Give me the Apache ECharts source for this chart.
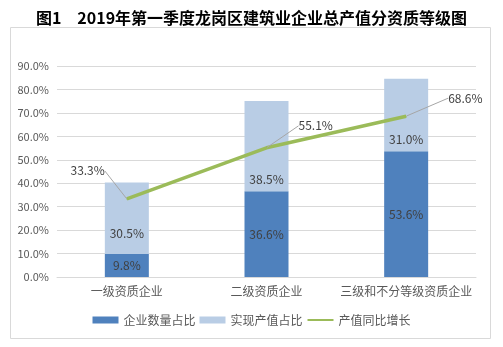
<!DOCTYPE html>
<html><head><meta charset="utf-8">
<script src="https://cdn.jsdelivr.net/npm/echarts@6/dist/echarts.min.js"></script>
<style>html,body{margin:0;padding:0;background:#fff}#c{width:503px;height:347px}</style>
</head><body><div id="c"></div>
<script>
const categories = ['一级资质企业', '二级资质企业', '三级和不分等级资质企业'];
const countShare = [9.8, 36.6, 53.6];
const outputShare = [30.5, 38.5, 31.0];
const growth = [33.3, 55.1, 68.6];
const yTicks = [0, 10, 20, 30, 40, 50, 60, 70, 80, 90];
const seriesNames = ['企业数量占比', '实现产值占比', '产值同比增长'];
const titleText = '图1　2019年第一季度龙岗区建筑业企业总产值分资质等级图';

const chart = echarts.init(document.getElementById('c'), null, {renderer: 'canvas'});
const font = '"Microsoft YaHei","Noto Sans CJK SC",sans-serif';
const lblOffsets = [[-22, -28, 'right'], [32, -22, 'left'], [42, -18, 'left']];
const barLblDy = [15, 33, 24];
chart.setOption({
  animation: false,
  title: {text: titleText, left: 'center', top: 5,
    textStyle: {fontSize: 16, fontWeight: 'bold', color: '#000', fontFamily: '"Noto Sans CJK SC",SimHei,sans-serif'}},
  graphic: [{type: 'rect', shape: {x: 10.5, y: 27.5, width: 480, height: 311},
    style: {fill: 'none', stroke: '#D9D9D9', lineWidth: 1}, silent: true}],
  grid: {left: 57, right: 27, top: 66, bottom: 70},
  legend: {bottom: 16, left: 'center', itemWidth: 26, itemHeight: 7, itemGap: 4,
    textStyle: {fontSize: 12, color: '#595959', fontFamily: font},
    data: [{name: seriesNames[0], icon: 'rect'}, {name: seriesNames[1], icon: 'rect'},
      {name: seriesNames[2], itemStyle: {opacity: 0}}]},
  xAxis: {type: 'category', data: categories,
    axisLine: {lineStyle: {color: '#D9D9D9'}}, axisTick: {show: false},
    axisLabel: {color: '#595959', fontSize: 12, margin: 8, interval: 0, fontFamily: font}},
  yAxis: {type: 'value', min: yTicks[0], max: yTicks[yTicks.length - 1], interval: 10,
    axisLine: {show: false}, axisTick: {show: false},
    splitLine: {lineStyle: {color: '#D9D9D9'}},
    axisLabel: {color: '#595959', fontSize: 11, margin: 8, formatter: v => v.toFixed(1) + '%', fontFamily: font}},
  series: [
    {name: seriesNames[0], type: 'bar', stack: 's', data: countShare, barWidth: 44,
      itemStyle: {color: '#4F81BD'},
      label: {show: true, position: 'inside', color: '#404040', fontSize: 12, formatter: p => p.value.toFixed(1) + '%', fontFamily: font}},
    {name: seriesNames[1], type: 'bar', stack: 's', data: outputShare, barWidth: 44,
      itemStyle: {color: '#B9CDE5'},
      label: {show: true, position: 'inside', color: '#404040', fontSize: 12, formatter: p => p.value.toFixed(1) + '%', fontFamily: font},
      labelLayout: p => ({dy: barLblDy[p.dataIndex]})},
    {name: seriesNames[2], type: 'line', data: growth.map((v, i) => ({value: v,
        label: {align: lblOffsets[i][2]}})),
      symbol: 'circle', symbolSize: 1, showSymbol: true,
      lineStyle: {color: '#9BBB59', width: 3.5}, itemStyle: {color: '#9BBB59'},
      label: {show: true, position: 'inside', color: '#404040', fontSize: 12, formatter: p => p.value.toFixed(1) + '%', fontFamily: font},
      labelLine: {show: true, lineStyle: {color: '#A6A6A6', width: 1}},
      labelLayout: p => ({dx: lblOffsets[p.dataIndex][0], dy: lblOffsets[p.dataIndex][1]})}
  ]
});
</script></body></html>
